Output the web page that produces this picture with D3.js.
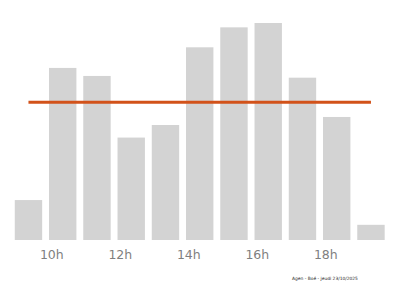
<!DOCTYPE html>
<html>
<head>
<meta charset="utf-8">
<script src="https://cdn.jsdelivr.net/npm/d3@7"></script>
<style>
  html, body { margin: 0; padding: 0; background: #fff; }
  svg { display: block; }
</style>
</head>
<body>
<div id="chart"></div>
<script>
const hours = [9, 10, 11, 12, 13, 14, 15, 16, 17, 18, 19];
const affluence = [18.4, 79.3, 75.6, 47.2, 53, 88.8, 98, 100, 74.8, 56.7, 7];
const tickHours = [10, 12, 14, 16, 18];
const footer = 'Agen - Boé - jeudi 23/10/2025';

const width = 400;
const height = 286;

const svg = d3.select('#chart')
  .append('svg')
  .attr('width', width)
  .attr('height', height);

// bars sit 20 min after the hour, 0.8h wide
const x = d3.scaleLinear().domain([9, 19]).range([17.05, 359.55]);
const y = d3.scaleLinear().domain([0, 100]).range([240, 23]);
const offset = 1 / 3;
const barW = 0.8;

svg.append('g')
  .selectAll('rect')
  .data(hours)
  .enter()
  .append('rect')
  .attr('x', (d) => x(d + offset - barW / 2))
  .attr('y', (d, i) => y(affluence[i]))
  .attr('width', x(barW) - x(0))
  .attr('height', (d, i) => y(0) - y(affluence[i]))
  .attr('fill', '#d3d3d3');

// average line
const mean = d3.mean(affluence);
svg.append('line')
  .attr('x1', x(hours[0] + offset))
  .attr('x2', x(hours[hours.length - 1] + offset))
  .attr('y1', y(mean))
  .attr('y2', y(mean))
  .attr('stroke', '#d2521a')
  .attr('stroke-width', 3);

const xAxis = svg.append('g')
  .attr('transform', 'translate(0,240)')
  .call(d3.axisBottom(x).tickValues(tickHours).tickFormat((d) => d + 'h').tickSize(0).tickPadding(10));
xAxis.select('.domain').remove();
xAxis.selectAll('text')
  .attr('fill', '#7f7f7f')
  .style('font-family', 'DejaVu Sans')
  .style('font-size', '12.5px');

svg.append('text')
  .attr('x', 325)
  .attr('y', 280)
  .attr('text-anchor', 'middle')
  .attr('fill', '#222')
  .style('font-family', 'DejaVu Sans')
  .style('font-size', '4.4px')
  .text(footer);
</script>
</body>
</html>
